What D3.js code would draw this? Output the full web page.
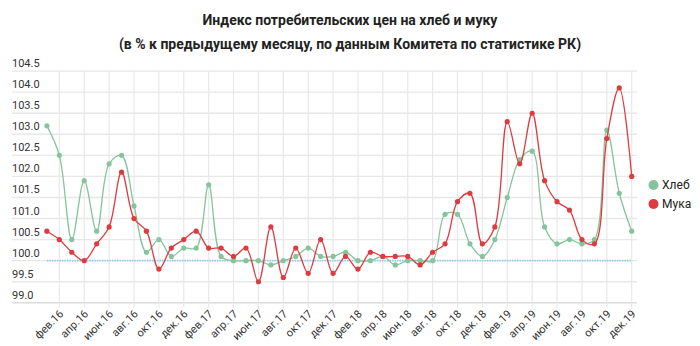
<!DOCTYPE html>
<html>
<head>
<meta charset="utf-8">
<script src="https://cdn.jsdelivr.net/npm/d3@7"></script>
<style>
  body { margin: 0; background: #fff; }
  svg { display: block; font-family: Roboto, "Noto Sans", sans-serif; }
</style>
</head>
<body>
<svg id="chart" width="700" height="346"></svg>
<script>
// Monthly CPI, % to previous month
const months = [
  "янв.16","фев.16","мар.16","апр.16","май.16","июн.16","июл.16","авг.16","сен.16","окт.16","ноя.16","дек.16",
  "янв.17","фев.17","мар.17","апр.17","май.17","июн.17","июл.17","авг.17","сен.17","окт.17","ноя.17","дек.17",
  "янв.18","фев.18","мар.18","апр.18","май.18","июн.18","июл.18","авг.18","сен.18","окт.18","ноя.18","дек.18",
  "янв.19","фев.19","мар.19","апр.19","май.19","июн.19","июл.19","авг.19","сен.19","окт.19","ноя.19","дек.19"
];
const bread = [
  103.2,102.5,100.5,101.9,100.7,102.3,102.5,101.3,100.2,100.5,100.1,100.3,
  100.3,101.8,100.1,100.0,100.0,100.0,99.9,100.0,100.1,100.3,100.1,100.1,
  100.2,100.0,100.0,100.1,99.9,100.0,100.0,100.0,101.1,101.1,100.4,100.1,
  100.5,101.5,102.4,102.6,100.8,100.4,100.5,100.4,100.5,103.1,101.6,100.7
];
const flour = [
  100.7,100.5,100.2,100.0,100.4,100.8,102.1,101.0,100.7,99.8,100.3,100.5,
  100.7,100.3,100.3,100.1,100.3,99.5,100.8,99.6,100.3,99.7,100.5,99.7,
  100.1,99.8,100.2,100.1,100.1,100.1,99.9,100.2,100.4,101.4,101.6,100.4,
  100.8,103.3,102.3,103.5,101.9,101.4,101.2,100.5,100.4,102.9,104.1,102.0
];
const yTicks = [99.0, 99.5, 100.0, 100.5, 101.0, 101.5, 102.0, 102.5, 103.0, 103.5, 104.0, 104.5];
const xTickLabels = months.filter((m, i) => i % 2 === 1);
const seriesNames = ["Хлеб", "Мука"];
const seriesColors = ["#86c49c", "#de3a40"];
const baseline = 100.0;

const svg = d3.select("#chart");

const x = d3.scalePoint().domain(months).range([46.9, 631.7]);
const y = d3.scaleLinear().domain([99.0, 104.5]).range([302.8, 71.1]);

const gridLeft = 12, gridRight = 637;

// Title
const title = svg.append("g").attr("font-weight", "bold").attr("font-size", 14).attr("fill", "#222").attr("text-anchor", "middle");
title.append("text").attr("x", 350).attr("y", 25).text("Индекс потребительских цен на хлеб и муку");
title.append("text").attr("x", 350).attr("y", 49).text("(в % к предыдущему месяцу, по данным Комитета по статистике РК)");

// Horizontal grid with value labels above each line
const yAxis = svg.append("g");
yAxis.selectAll("line").data(yTicks).join("line")
  .attr("x1", gridLeft).attr("x2", gridRight)
  .attr("y1", d => y(d)).attr("y2", d => y(d))
  .attr("stroke", d => d === 99.0 ? "#dcdcdc" : "#e8e8e8").attr("stroke-width", 1.4);
yAxis.selectAll("text").data(yTicks).join("text")
  .attr("x", gridLeft).attr("y", d => y(d) - 4)
  .attr("font-size", 11).attr("fill", "#333")
  .text(d => d.toFixed(1));

// Vertical grid at labelled months
const xAxis = svg.append("g");
xAxis.selectAll("line").data(xTickLabels).join("line")
  .attr("x1", d => x(d)).attr("x2", d => x(d))
  .attr("y1", y(104.5)).attr("y2", y(99.0) + 5)
  .attr("stroke", "#e8e8e8").attr("stroke-width", 1.2);
xAxis.selectAll("text").data(xTickLabels).join("text")
  .attr("transform", d => `translate(${x(d) + 2},${y(99.0) + 9}) rotate(-45)`)
  .attr("text-anchor", "end").attr("font-size", 11).attr("fill", "#333")
  .attr("dy", "0.35em")
  .text(d => d);

// Reference line at 100 %
svg.append("line")
  .attr("x1", x(months[0])).attr("x2", x(months[months.length - 1]))
  .attr("y1", y(baseline)).attr("y2", y(baseline))
  .attr("stroke", "#8fcbe6").attr("stroke-width", 1.6).attr("stroke-dasharray", "1.5,1");

// Series
const line = d3.line()
  .x((d, i) => x(months[i]))
  .y(d => y(d))
  .curve(d3.curveCatmullRom.alpha(0.5));

[bread, flour].forEach((vals, s) => {
  const g = svg.append("g");
  g.append("path").attr("d", line(vals))
    .attr("fill", "none").attr("stroke", seriesColors[s]).attr("stroke-width", 1.3);
  g.selectAll("circle").data(vals).join("circle")
    .attr("cx", (d, i) => x(months[i])).attr("cy", d => y(d))
    .attr("r", 2.6).attr("fill", seriesColors[s]);
});

// Legend
const legend = svg.append("g");
seriesNames.forEach((name, i) => {
  const ly = 185 + i * 19;
  legend.append("circle").attr("cx", 653.5).attr("cy", ly).attr("r", 5).attr("fill", seriesColors[i]);
  legend.append("text").attr("x", 662).attr("y", ly).attr("dy", "0.35em")
    .attr("font-size", 12).attr("fill", "#222").text(name);
});
</script>
</body>
</html>
